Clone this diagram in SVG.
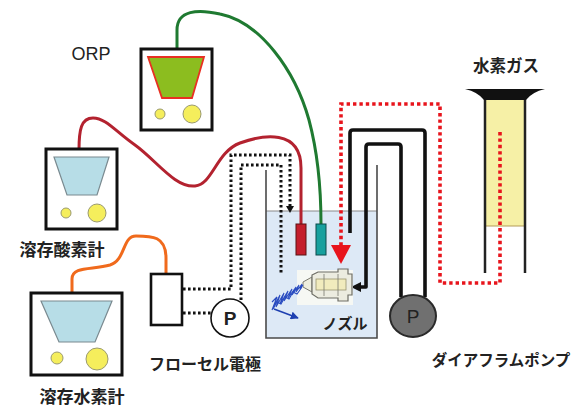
<svg xmlns="http://www.w3.org/2000/svg" width="580" height="407" viewBox="0 0 580 407">
  <style>
    .box { fill: #fff; stroke: #111; stroke-width: 3; }
    .dot-y { fill: #f5ee5c; stroke: #9a9a70; stroke-width: 1; }
    .lbl { font-family: "Noto Sans CJK JP", "Noto Sans", sans-serif; fill: #222; font-weight: bold; }
    .lat { font-family: "Liberation Sans", Arial, sans-serif; fill: #222; }
    .bdot { fill: none; stroke: #111; stroke-width: 3; stroke-dasharray: 2.6 2.4; }
    .rdot { fill: none; stroke: #e8141c; stroke-width: 3.6; stroke-dasharray: 3.4 3; }
    .pipe { fill: none; stroke: #111; stroke-width: 3.6; stroke-linejoin: round; }
    .spray { fill: none; stroke: #2a4cc0; stroke-width: 1.1; }
  </style>
  <defs>
    <marker id="blueArrow" viewBox="0 0 10 10" refX="9" refY="5" markerWidth="5" markerHeight="5" orient="auto">
      <path d="M0,0 L10,5 L0,10 Z" fill="#1d3fb0"/>
    </marker>
  </defs>

  <rect width="580" height="407" fill="#fff"/>

  <!-- tank with water -->
  <g id="tank">
    <rect x="266" y="211" width="111" height="127" fill="#dde9f6"/>
    <line x1="266" y1="211" x2="377" y2="211" stroke="#8a8a8a" stroke-width="1"/>
    <path d="M266,170 L266,338 L377,338 L377,165" fill="none" stroke="#4a4a4a" stroke-width="1.6"/>
  </g>

  <!-- cables, tubes and sample lines -->
  <g id="connectors">
    <!-- ORP cable -->
    <path d="M177,49 L177,30 C177,10 198,9 220,14 C260,22 295,70 309,120 C317,150 321,180 321,224" fill="none" stroke="#1f7a31" stroke-width="3"/>
    <!-- DO cable -->
    <path d="M79,150 C79,130 81,118 93,118 C106,118 116,132 135,145 C156,160 175,188 195,186 C213,184 216,152 240,143 C262,135 301,128 301,168 L301,224" fill="none" stroke="#b3222f" stroke-width="3"/>
    <!-- DH cable -->
    <path d="M72,293 L72,279 C72,266 92,270 110,265 C126,260 122,236 136,236 C152,236 166,236 166,258 L166,274" fill="none" stroke="#f06a1c" stroke-width="3"/>

    <!-- flow cell sample lines -->
    <path class="bdot" d="M183,289 L231,289 L231,155 L290,155 L290,206"/>
    <path d="M286,206 L294,206 L290,213 Z" fill="#111"/>
    <path class="bdot" d="M183,313 L211,313"/>
    <path class="bdot" d="M241,300 L241,165 L281,165 L281,273"/>

    <!-- hydrogen gas line -->
    <path class="rdot" d="M500,132 L500,283 L440,283 L440,104 L341,104 L341,246"/>
    <path d="M331,245 L351,245 L341,264 Z" fill="#e8141c"/>

    <!-- pump circulation pipes -->
    <path class="pipe" d="M350,233 L350,133 Q350,130 353,130 L422,130 Q425,130 425,133 L425,297"/>
    <path class="pipe" d="M401,297 L401,147 Q401,144 398,144 L369,144 Q366,144 366,147 L366,287 L360,287"/>
    <path d="M361,282 L351,287 L361,292 Z" fill="#111"/>
  </g>

  <!-- ORP meter -->
  <g id="orp-meter">
    <rect class="box" x="141" y="49" width="71" height="81"/>
    <polygon points="148,57 204,57 192,98 162,98" fill="#8cbd1f" stroke="#e83022" stroke-width="1.8"/>
    <circle class="dot-y" cx="160" cy="114" r="5"/>
    <circle class="dot-y" cx="192" cy="114" r="9"/>
    <text class="lat" x="91" y="60" font-size="18" text-anchor="middle">ORP</text>
  </g>

  <!-- dissolved oxygen meter -->
  <g id="do-meter">
    <rect class="box" x="46" y="149" width="71" height="80"/>
    <polygon points="54,157 109,157 97,195 67,195" fill="#b7dde7" stroke="#7a8a90" stroke-width="1.2"/>
    <circle class="dot-y" cx="66" cy="213" r="5"/>
    <circle class="dot-y" cx="97" cy="213" r="9"/>
    <text class="lbl" x="62" y="256" font-size="17" text-anchor="middle">溶存酸素計</text>
  </g>

  <!-- dissolved hydrogen meter -->
  <g id="dh-meter">
    <rect class="box" x="31" y="293" width="91" height="82"/>
    <polygon points="41,301 112,301 95,342 59,342" fill="#b7dde7" stroke="#7a8a90" stroke-width="1.2"/>
    <circle class="dot-y" cx="57" cy="358" r="6"/>
    <circle class="dot-y" cx="97" cy="359" r="11"/>
    <text class="lbl" x="82" y="403" font-size="17" text-anchor="middle">溶存水素計</text>
  </g>

  <!-- flow cell electrode -->
  <g id="flow-cell">
    <rect x="151" y="274" width="31" height="51" fill="#fff" stroke="#111" stroke-width="2.6"/>
    <text class="lbl" x="205" y="370" font-size="16" text-anchor="middle">フローセル電極</text>
  </g>

  <!-- flow cell pump -->
  <g id="flow-pump">
    <circle cx="230" cy="318" r="19" fill="#fff" stroke="#111" stroke-width="1.6"/>
    <text class="lat" x="230" y="325" font-size="19" font-weight="bold" text-anchor="middle">P</text>
  </g>

  <!-- probes in tank -->
  <g id="probes">
    <rect x="296" y="224" width="10" height="31" fill="#c41e2c" stroke="#5a1212" stroke-width="1"/>
    <rect x="316" y="224" width="10" height="31" fill="#17a09e" stroke="#0c4a4a" stroke-width="1"/>
  </g>

  <!-- nozzle with spray -->
  <g id="nozzle">
    <rect x="297" y="270" width="56" height="35" fill="#f6f8f4"/>
    <path d="M303,282 L312,277 L312,292 L303,287 Z" fill="#eeeede" stroke="#7a7a70" stroke-width="1"/>
    <path d="M312,275 L318,272 L338,272 L338,269 L348,269 L348,274 L352,274 L352,295 L348,295 L348,301 L338,301 L338,298 L318,298 L312,294 Z" fill="#ecece0" stroke="#6e6e66" stroke-width="1.2"/>
    <rect x="316" y="279" width="30" height="11" fill="#f1ebbd" stroke="#9a9470" stroke-width="0.8"/>
    <line x1="324" y1="274" x2="324" y2="296" stroke="#7a7a70" stroke-width="0.8"/>
    <line x1="338" y1="274" x2="338" y2="296" stroke="#7a7a70" stroke-width="0.8"/>
    <!-- spray cone -->
    <polyline class="spray" points="303,285 300,289 302,284 296,292 299,285 292,295 296,287 288,298 292,289 284,301 288,291 280,304 284,293 276,307 280,295 272,310 277,297 272,302"/>
    <polyline class="spray" points="302,287 297,294 293,292 289,299 285,297 281,304 277,302 273,309"/>
    <line x1="274" y1="309" x2="298" y2="318" stroke="#1d3fb0" stroke-width="1.6" marker-end="url(#blueArrow)"/>
    <text class="lbl" x="345" y="329" font-size="15" text-anchor="middle">ノズル</text>
  </g>

  <!-- diaphragm pump -->
  <g id="diaphragm-pump">
    <ellipse cx="413" cy="316" rx="23" ry="21" fill="#707070" stroke="#2a2a2a" stroke-width="2"/>
    <text class="lat" x="413" y="323" font-size="19" text-anchor="middle" fill="#111">P</text>
    <text class="lbl" x="501" y="366" font-size="15.5" text-anchor="middle">ダイアフラムポンプ</text>
  </g>

  <!-- hydrogen gas cylinder -->
  <g id="h2-cylinder">
    <rect x="486" y="99" width="38" height="127" fill="#f6f0a6"/>
    <line x1="486" y1="226" x2="524" y2="226" stroke="#b39c58" stroke-width="1.2"/>
    <line x1="485" y1="99" x2="485" y2="273" stroke="#222" stroke-width="2.5"/>
    <line x1="525" y1="99" x2="525" y2="273" stroke="#222" stroke-width="2.5"/>
    <path d="M465,89 L545,89 Q532,92 526,100 L484,100 Q478,92 465,89 Z" fill="#111"/>
    <text class="lbl" x="506" y="72" font-size="16.5" text-anchor="middle">水素ガス</text>
  </g>
  <!-- gas line end inside cylinder drawn on top -->
  <path class="rdot" d="M500,132 L500,226"/>
</svg>
